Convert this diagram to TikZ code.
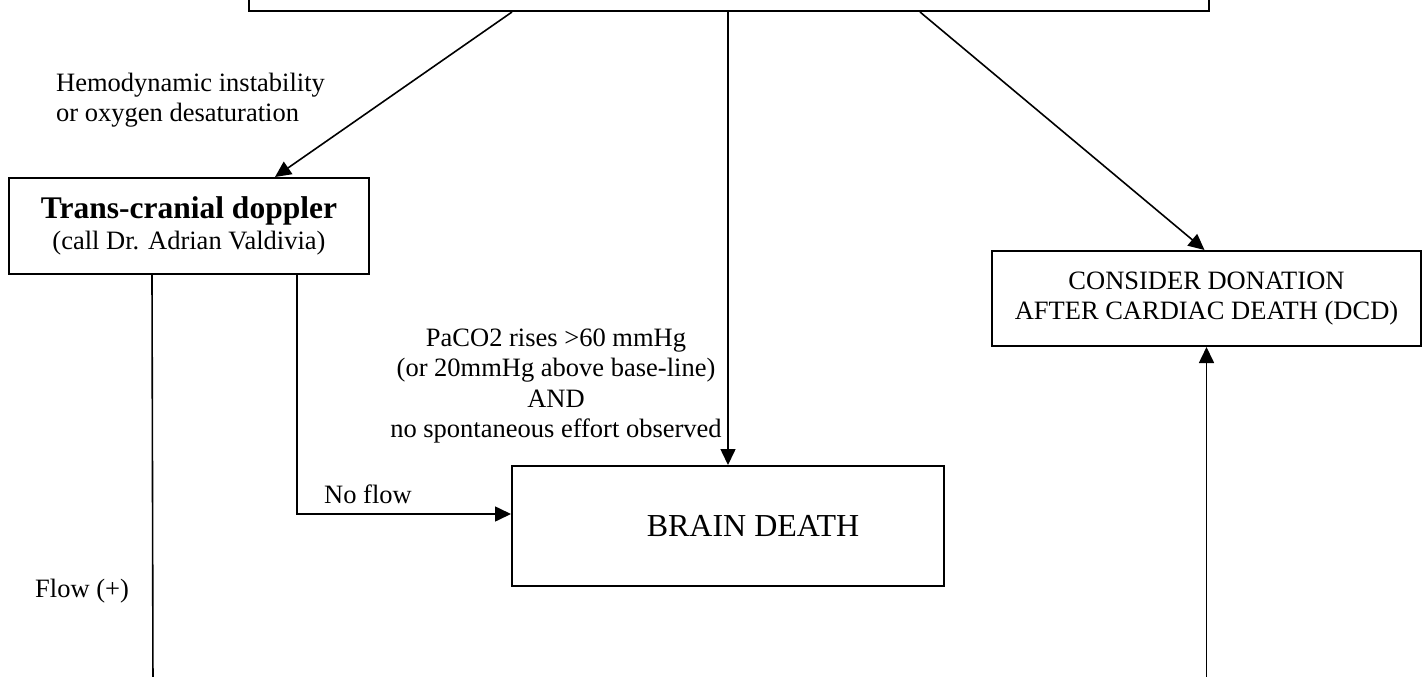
\documentclass[tikz,border=0pt]{standalone}
\usepackage{fontspec}
\setmainfont{Liberation Serif}
\usetikzlibrary{arrows.meta, calc}

\begin{document}
\begin{tikzpicture}[x=1pt,y=-1pt,
  txt/.style={font=\fontsize{26.5}{30.5}\selectfont,inner sep=0pt},
  box/.style={draw,line width=2pt,txt,align=center},
  conn/.style={line width=1.6pt,-{Triangle[length=16pt,width=15pt]}}]
  \clip(0,0) rectangle(1427,677);
  % boxes
  \node[box,minimum width=960,minimum height=70] (top) at(729,-24){};
  \node[box,minimum width=360,minimum height=96] (tcd) at(189,226){{\fontsize{31.5}{33}\selectfont\bfseries Trans-cranial doppler}\\(call Dr. Adrian Valdivia)};
  \node[box,minimum width=432,minimum height=120,
    label={[font=\fontsize{32}{36}\selectfont,xshift=25pt]center:BRAIN DEATH}] (bd) at(728,526){};
  \node[box,minimum width=429,minimum height=95] (dcd) at(1206.5,298.5){CONSIDER DONATION\\AFTER CARDIAC DEATH (DCD)};
  % texts
  \node[txt,anchor=west,align=left] (hemo) at(56,100){Hemodynamic instability\\or oxygen desaturation};
  \node[txt,align=center] (paco) at(556,386){PaCO2 rises >60 mmHg\\(or 20mmHg above base-line)\\AND\\no spontaneous effort observed};
  \node[txt,anchor=west] (noflow) at(324,494){No flow};
  \node[txt,anchor=west] (flow) at(35,591){Flow (+)};
  % connectors
  \draw[conn] ($(top.south west)+(264,0)$)--($(tcd.north)+(86,0)$);
  \draw[conn] (bd.north|-top.south)--(bd.north);
  \draw[conn] ($(top.south west)+(672,0)$)--($(dcd.north)+(-2,0)$);
  \draw[conn] ($(tcd.south east)+(-73,0)$)|-($(bd.west)+(0,-12)$);
  \coordinate (flowend) at(153,690);
  \draw[line width=1.6pt] ($(tcd.south west)+(144,0)$)--(flowend);
  \coordinate (dcdfrom) at(1206.5,690);
  \draw[conn] (dcdfrom)--(dcd.south);
\end{tikzpicture}
\end{document}
